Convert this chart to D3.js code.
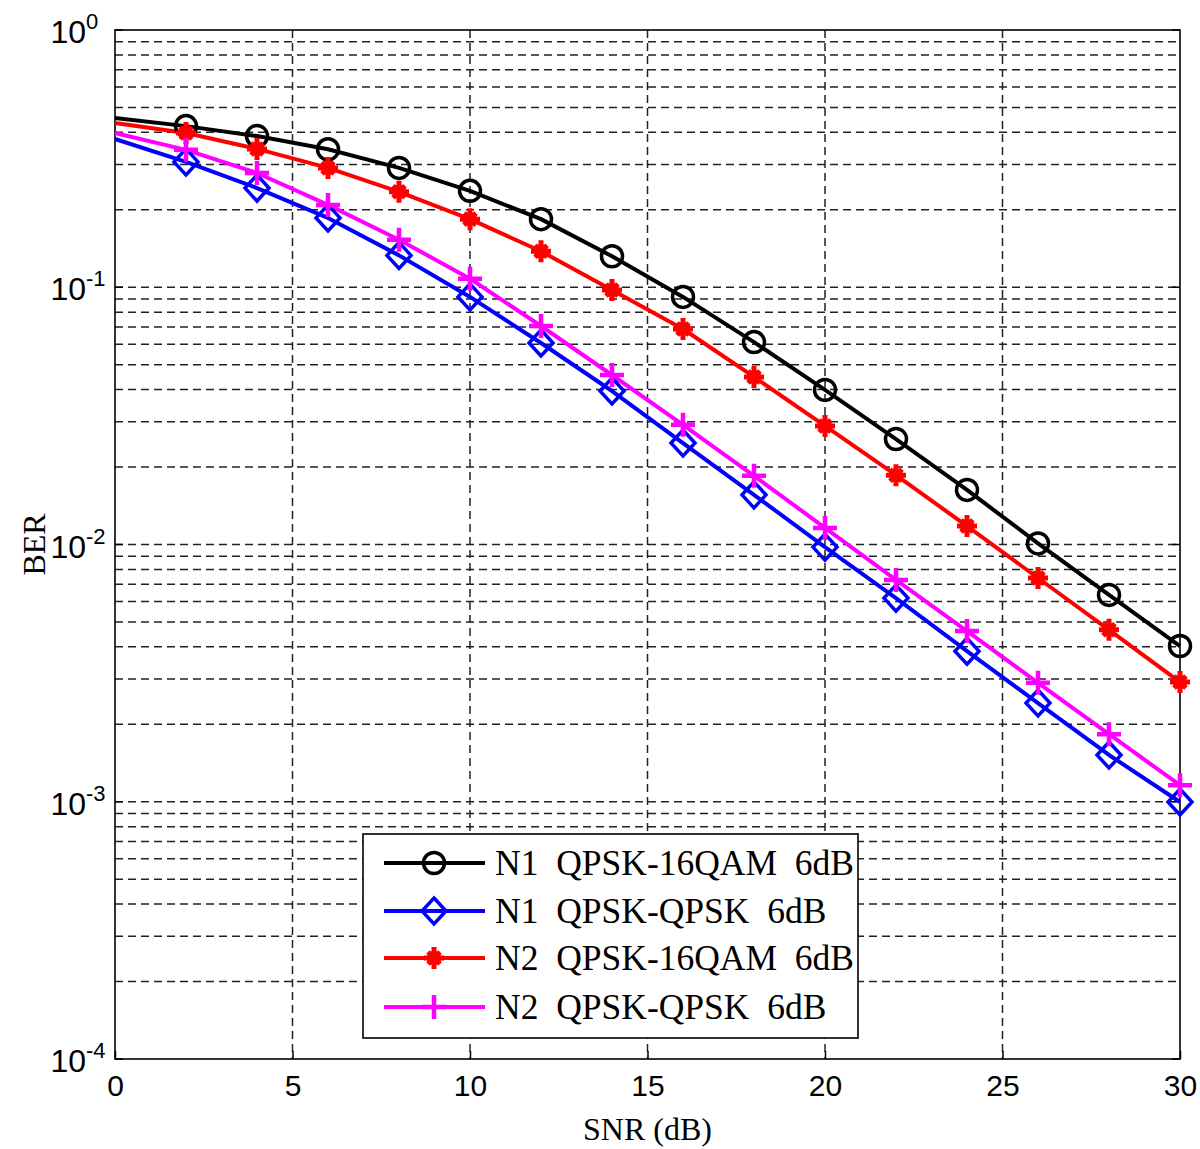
<!DOCTYPE html>
<html>
<head>
<meta charset="utf-8">
<script src="https://cdn.jsdelivr.net/npm/d3@7"></script>
<style>
  body { margin: 0; background: #fff; }
</style>
</head>
<body>
<svg id="chart"></svg>
<script>
// SNR points and BER curves
const snr = [0, 2, 4, 6, 8, 10, 12, 14, 16, 18, 20, 22, 24, 26, 28, 30];
const berN1Qam = [0.455, 0.423, 0.387, 0.344, 0.291, 0.237, 0.184, 0.132, 0.0917, 0.0612, 0.0399, 0.0257, 0.0163, 0.0101, 0.00637, 0.00403];
const berN1Qpsk = [0.377, 0.307, 0.243, 0.186, 0.133, 0.0917, 0.0607, 0.0395, 0.0248, 0.0156, 0.00977, 0.00619, 0.00385, 0.00242, 0.00152, 0.000998];
const berN2Qam = [0.435, 0.398, 0.345, 0.291, 0.235, 0.184, 0.138, 0.0975, 0.0688, 0.0448, 0.0289, 0.0186, 0.0118, 0.00741, 0.00466, 0.00292];
const berN2Qpsk = [0.398, 0.342, 0.278, 0.209, 0.153, 0.108, 0.0707, 0.0456, 0.0292, 0.0185, 0.0116, 0.00728, 0.00461, 0.00290, 0.00183, 0.00116];

const xTicks = [0, 5, 10, 15, 20, 25, 30];
const yExponents = [0, -1, -2, -3, -4];
const legendLabels = ["N1  QPSK-16QAM  6dB", "N1  QPSK-QPSK  6dB", "N2  QPSK-16QAM  6dB", "N2  QPSK-QPSK  6dB"];

const series = [
  { values: berN1Qam, color: "#000000", marker: "circle" },
  { values: berN1Qpsk, color: "#0000ff", marker: "diamond" },
  { values: berN2Qam, color: "#ff0000", marker: "star" },
  { values: berN2Qpsk, color: "#ff00ff", marker: "plus" }
];

const width = 1200, height = 1149;
const margin = { left: 115, right: 20, top: 30, bottom: 90 };

const svg = d3.select("#chart")
  .attr("width", width)
  .attr("height", height);

const x = d3.scaleLinear().domain([0, 30]).range([margin.left, width - margin.right]);
const y = d3.scaleLog().domain([1e-4, 1]).range([height - margin.bottom, margin.top]);

const plotLeft = x(0), plotRight = x(30), plotTop = y(1), plotBottom = y(1e-4);

// grid lines (dashed) - minor and major on log axis
const gridColor = "#222";
const yGridVals = [];
for (let e = -4; e < 0; e++) {
  for (let m = 1; m <= 9; m++) yGridVals.push(m * Math.pow(10, e));
}

svg.append("g")
  .selectAll("line")
  .data(yGridVals.filter(v => v > 1e-4 && v < 1))
  .join("line")
  .attr("x1", plotLeft)
  .attr("x2", plotRight)
  .attr("y1", d => y(d))
  .attr("y2", d => y(d))
  .attr("stroke", gridColor)
  .attr("stroke-width", 1.5)
  .attr("stroke-dasharray", "8,5");

svg.append("g")
  .selectAll("line")
  .data(xTicks.filter(d => d > 0 && d < 30))
  .join("line")
  .attr("x1", d => x(d))
  .attr("x2", d => x(d))
  .attr("y1", plotTop)
  .attr("y2", plotBottom)
  .attr("stroke", gridColor)
  .attr("stroke-width", 1.5)
  .attr("stroke-dasharray", "8,5");

// plot frame
svg.append("rect")
  .attr("x", plotLeft)
  .attr("y", plotTop)
  .attr("width", plotRight - plotLeft)
  .attr("height", plotBottom - plotTop)
  .attr("fill", "none")
  .attr("stroke", "#000")
  .attr("stroke-width", 1.6);

// x axis via d3 axis (ticks inward)
const xAxis = svg.append("g")
  .attr("transform", `translate(0,${plotBottom})`)
  .call(d3.axisBottom(x).tickValues(xTicks).tickSizeInner(-8).tickSizeOuter(0).tickPadding(16));
xAxis.select(".domain").remove();
xAxis.selectAll("line").attr("stroke", "#000").attr("stroke-width", 1.5);
xAxis.selectAll("text")
  .attr("font-family", "Liberation Sans, Arial, sans-serif")
  .attr("font-size", 30)
  .attr("fill", "#000");

// y tick labels: 10 with superscript exponent
const yLabels = svg.append("g");
yExponents.forEach(e => {
  const ty = y(Math.pow(10, e));
  yLabels.append("text")
    .attr("x", 86)
    .attr("y", ty + 13)
    .attr("text-anchor", "end")
    .attr("font-family", "Liberation Sans, Arial, sans-serif")
    .attr("font-size", 32)
    .attr("fill", "#000")
    .text("10");
  yLabels.append("text")
    .attr("x", 86)
    .attr("y", ty - 1)
    .attr("font-family", "Liberation Sans, Arial, sans-serif")
    .attr("font-size", 22)
    .attr("fill", "#000")
    .text(String(e));
  // inward ticks on the left and right sides
  [plotLeft, plotRight].forEach((px, i) => {
    svg.append("line")
      .attr("x1", px)
      .attr("x2", px + (i === 0 ? 8 : -8))
      .attr("y1", ty)
      .attr("y2", ty)
      .attr("stroke", "#000")
      .attr("stroke-width", 1.5);
  });
});

// axis titles
svg.append("text")
  .attr("x", (plotLeft + plotRight) / 2)
  .attr("y", 1140)
  .attr("text-anchor", "middle")
  .attr("font-family", "Liberation Serif, Times New Roman, serif")
  .attr("font-size", 32)
  .attr("fill", "#000")
  .text("SNR (dB)");

svg.append("text")
  .attr("transform", `translate(45,${(plotTop + plotBottom) / 2}) rotate(-90)`)
  .attr("text-anchor", "middle")
  .attr("font-family", "Liberation Serif, Times New Roman, serif")
  .attr("font-size", 32)
  .attr("fill", "#000")
  .text("BER");

// marker drawing helper
function drawMarker(g, type, color) {
  if (type === "circle") {
    g.append("circle").attr("r", 10.5).attr("fill", "none").attr("stroke", color).attr("stroke-width", 3.5);
  } else if (type === "diamond") {
    g.append("path").attr("d", "M0,-13 L12,0 L0,13 L-12,0 Z").attr("fill", "none").attr("stroke", color).attr("stroke-width", 3.5);
  } else if (type === "star") {
    g.append("path").attr("d", "M-10,0 H10 M0,-11 V11 M-6,-6 L6,6 M-6,6 L6,-6").attr("stroke", color).attr("stroke-width", 5);
    g.append("circle").attr("r", 7).attr("fill", color);
  } else if (type === "plus") {
    g.append("path").attr("d", "M-12,0 H12 M0,-12 V12").attr("stroke", color).attr("stroke-width", 4.5);
  }
}

const line = d3.line()
  .x((d, i) => x(snr[i]))
  .y(d => y(d));

const plot = svg.append("g");
series.forEach(s => {
  plot.append("path")
    .datum(s.values)
    .attr("d", line)
    .attr("fill", "none")
    .attr("stroke", s.color)
    .attr("stroke-width", 4)
    .attr("stroke-linejoin", "round");
});
series.forEach(s => {
  s.values.forEach((v, i) => {
    if (i === 0) return; // no marker at 0 dB in the original
    const g = plot.append("g").attr("transform", `translate(${x(snr[i])},${y(v)})`);
    drawMarker(g, s.marker, s.color);
  });
});

// legend
const legX = 363, legY = 834, legW = 495, legH = 204;
const legend = svg.append("g");
legend.append("rect")
  .attr("x", legX)
  .attr("y", legY)
  .attr("width", legW)
  .attr("height", legH)
  .attr("fill", "#fff")
  .attr("stroke", "#000")
  .attr("stroke-width", 1.6);

const rowY = [863, 911, 958, 1007];
series.forEach((s, i) => {
  legend.append("line")
    .attr("x1", 384)
    .attr("x2", 485)
    .attr("y1", rowY[i])
    .attr("y2", rowY[i])
    .attr("stroke", s.color)
    .attr("stroke-width", 4);
  const g = legend.append("g").attr("transform", `translate(434,${rowY[i]})`);
  drawMarker(g, s.marker, s.color);
  legend.append("text")
    .attr("x", 495)
    .attr("y", rowY[i] + 12)
    .attr("font-family", "Liberation Serif, Times New Roman, serif")
    .attr("font-size", 35.5)
    .attr("fill", "#000")
    .attr("xml:space", "preserve")
    .style("white-space", "pre")
    .text(legendLabels[i]);
});
</script>
</body>
</html>
